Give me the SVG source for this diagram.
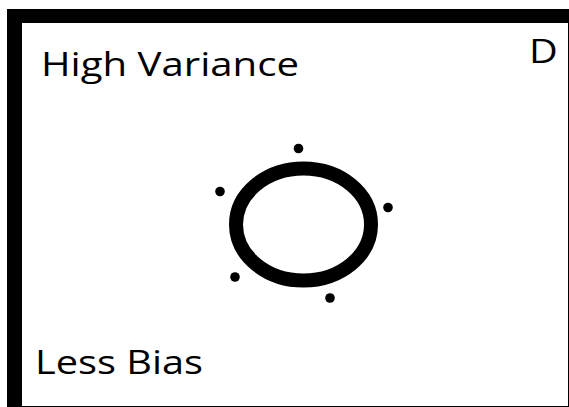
<svg xmlns="http://www.w3.org/2000/svg" width="569" height="407" viewBox="0 0 569 407">
<style>
.lbl{font-family:"Open Sans","Segoe UI","DejaVu Sans",sans-serif;font-size:33px;fill:#000}
.dot{fill:#000}
</style>
<rect x="0" y="0" width="569" height="407" fill="#fff"/>
<g id="frame">
<rect x="7" y="9" width="562" height="398" fill="#000"/>
<rect x="22" y="23" width="546" height="383" fill="#fff"/>
</g>
<g id="labels">
<text class="lbl" transform="translate(41,76) scale(1.2,1)" textLength="215" lengthAdjust="spacingAndGlyphs">High Variance</text>
<text class="lbl" transform="translate(529,63) scale(1.2,1)">D</text>
<text class="lbl" transform="translate(35,374) scale(1.2,1)" textLength="140" lengthAdjust="spacingAndGlyphs">Less Bias</text>
</g>
<g id="target">
<ellipse cx="303.5" cy="224.5" rx="67.5" ry="56" fill="none" stroke="#000" stroke-width="14"/>
</g>
<g id="points">
<circle class="dot" cx="298.5" cy="148.5" r="4.8"/>
<circle class="dot" cx="220" cy="191.5" r="4.8"/>
<circle class="dot" cx="388" cy="207.5" r="4.8"/>
<circle class="dot" cx="235" cy="277" r="4.8"/>
<circle class="dot" cx="330" cy="298" r="4.8"/>
</g>
</svg>
